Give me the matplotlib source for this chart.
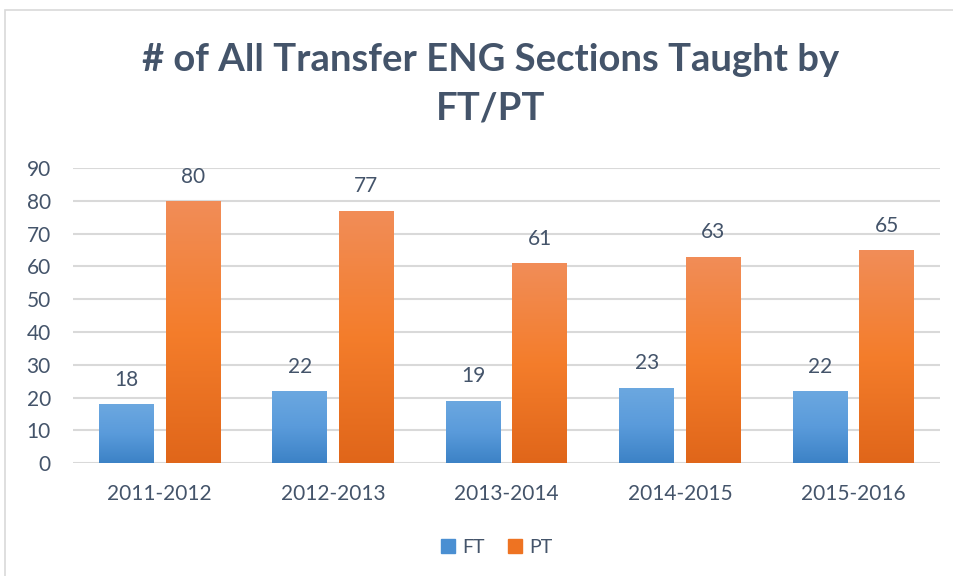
import numpy as np
import matplotlib
matplotlib.use("Agg")
import matplotlib.pyplot as plt
from matplotlib.colors import LinearSegmentedColormap
from matplotlib.patches import Rectangle

# data
years = ["2011-2012", "2012-2013", "2013-2014", "2014-2015", "2015-2016"]
ft = [18, 22, 19, 23, 22]
pt = [80, 77, 61, 63, 65]
yticks = list(range(0, 100, 10))

plt.rcParams['font.family'] = ['Lato', 'DejaVu Sans']
txt_col = "#44546A"

fig = plt.figure(figsize=(9.54, 5.76), dpi=100)
ax = fig.add_axes([0.0765, 0.196, 0.909, 0.512])

# outer chart border like the office chart frame
fig.patches.append(Rectangle((5 / 954, -0.1), 1.2, (576 - 10) / 576 + 0.1,
                             transform=fig.transFigure, fill=False,
                             edgecolor="#D9D9D9", linewidth=1.2))

blue_cm = LinearSegmentedColormap.from_list("b", ["#3C82C6", "#5A9BDB", "#6CA8E0"])
orange_cm = LinearSegmentedColormap.from_list("o", ["#E0661A", "#F47D2B", "#F18D58"])

x = np.arange(len(years))
w = 0.317
off = 0.192

grad = np.linspace(0, 1, 256).reshape(-1, 1)

def gradient_bars(xpos, vals, cmap, label):
    bars = ax.bar(xpos, vals, w, color=cmap(0.5), label=label, zorder=2)
    for b in bars:
        x0, y0 = b.get_x(), b.get_y()
        x1, y1 = x0 + b.get_width(), y0 + b.get_height()
        im = ax.imshow(grad, cmap=cmap, aspect="auto", origin="lower",
                       extent=[x0, x1, y0, y1], zorder=3)
        im.set_clip_path(b)
    return bars

b1 = gradient_bars(x - off, ft, blue_cm, "FT")
b2 = gradient_bars(x + off, pt, orange_cm, "PT")

for bars in (b1, b2):
    for b in bars:
        ax.text(b.get_x() + b.get_width() / 2, b.get_height() + 4.4,
                f"{int(b.get_height())}", ha="center", va="bottom",
                fontsize=15, color=txt_col, zorder=4)

ax.set_xlim(-0.5, 4.5)
ax.set_ylim(0, 90)
ax.set_yticks(yticks)
ax.set_xticks(x)
ax.set_xticklabels(years)
ax.tick_params(axis="both", length=0, labelsize=15, labelcolor=txt_col)
ax.tick_params(axis="y", pad=16)
ax.tick_params(axis="x", pad=15)
ax.grid(axis="y", color="#D9D9D9", linewidth=1.5, zorder=0)
ax.set_axisbelow(True)
for s in ax.spines.values():
    s.set_visible(False)

fig.text(0.514, 0.854, "# of All Transfer ENG Sections Taught by\nFT/PT",
         ha="center", va="center", fontsize=27.5, fontweight="bold",
         color=txt_col, linespacing=1.5)

leg = fig.legend(handles=[b1, b2], labels=["FT", "PT"], loc="center",
                 bbox_to_anchor=(0.521, 0.05), ncol=2, frameon=False,
                 fontsize=14, handlelength=0.7, handleheight=0.7,
                 columnspacing=1.2, handletextpad=0.4)
leg.legend_handles[0].set_color("#4A8FD2")
leg.legend_handles[1].set_color("#EE7322")
for t in leg.get_texts():
    t.set_color(txt_col)

fig.savefig("out.png", dpi=100)
